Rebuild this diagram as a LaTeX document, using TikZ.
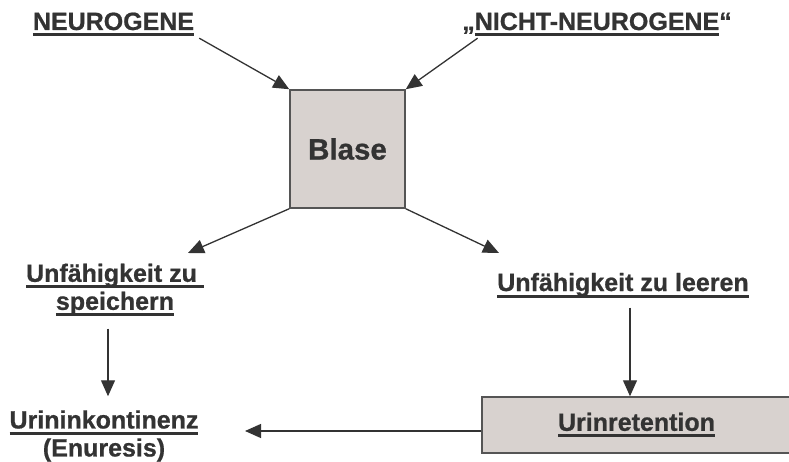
\documentclass[tikz,border=0pt]{standalone}
\usepackage{fontspec}
\setmainfont{Liberation Sans}[BoldFeatures={FakeBold=0.8}]
\usetikzlibrary{arrows.meta,positioning}
\definecolor{boxfill}{RGB}{216,210,207}
\definecolor{boxline}{RGB}{85,85,85}
\definecolor{inkgray}{RGB}{51,51,51}
\newsavebox{\ulsave}
\newcommand{\ulbar}[1]{\sbox{\ulsave}{#1}\rlap{\rule[-6.5pt]{\wd\ulsave}{3pt}}\usebox{\ulsave}}

\begin{document}
\begin{tikzpicture}[x=1pt,y=-1pt,
  lbl/.style={font=\fontsize{25}{28}\selectfont\bfseries, text=inkgray, inner sep=0pt, align=center},
  greybox/.style={draw=boxline, line width=1.5pt, fill=boxfill, inner sep=0pt},
  arr/.style={draw=inkgray, line width=1.3pt, -{Triangle[length=16pt,width=14pt]}}]
\useasboundingbox (0,0) rectangle (789,462);
% causes
\node[lbl, anchor=base] (neuro) at (113.5,30) {\ulbar{NEUROGENE}};
\node[lbl, anchor=base] (nonneuro) at (597,30) {„\ulbar{NICHT-NEUROGENE}“};
% bladder
\node[greybox, lbl, minimum width=115pt, minimum height=118pt] (blase) at (347.5,149) {\fontsize{29.5}{32}\selectfont Blase};
% consequences
\node[lbl] (store) at (115,290) {\ulbar{Unfähigkeit zu\ }\\\ulbar{speichern}};
\node[lbl, anchor=base] (empty) at (623,291) {\ulbar{Unfähigkeit zu leeren}};
\node[lbl] (incont) at (104,436) {\ulbar{Urininkontinenz}\\(Enuresis)};
\node[greybox, lbl, minimum width=309pt, minimum height=56pt] (reten) at (636.5,425) {\ulbar{Urinretention}};
% arrow tips
\coordinate (store-in) at (188,253);
\coordinate (empty-in) at (499,253);
\coordinate (incont-in) at (245,431);
% arrows
\draw[arr] ([shift={(5,1.5)}]neuro.south east) -- (blase.north west);
\draw[arr] ([shift={(15.5,1.5)}]nonneuro.south west) -- (blase.north east);
\draw[arr] (blase.south west) -- (store-in);
\draw[arr] (blase.south east) -- (empty-in);
\draw[arr] ([xshift=-7pt,yshift=-12pt]store.south) -- ([xshift=-7pt]store.south |- reten.north);
\draw[arr] ([xshift=7pt,yshift=-10pt]empty.south) -- ([xshift=7pt]empty.south |- reten.north);
\draw[arr] (reten.west |- incont-in) -- (incont-in);
\end{tikzpicture}
\end{document}
